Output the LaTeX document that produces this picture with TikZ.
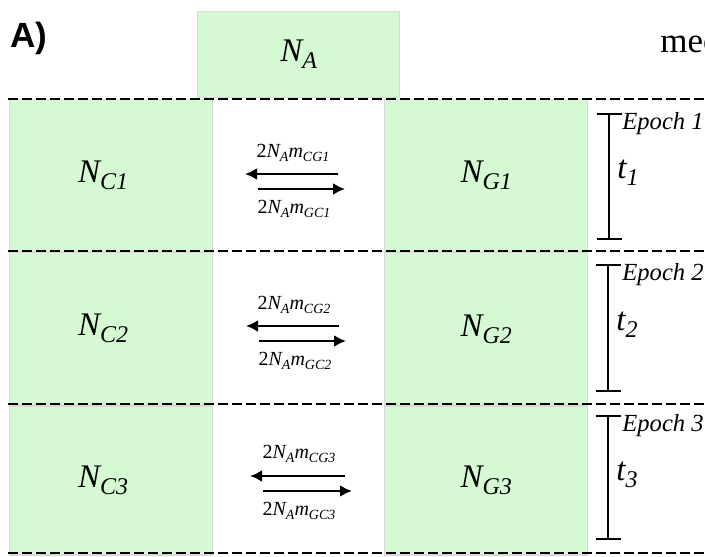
\documentclass[tikz,border=0pt]{standalone}
\usepackage{fontspec}
\setmainfont{Liberation Serif}
\newfontfamily\panelfont{Liberation Sans}
\usetikzlibrary{positioning,arrows.meta}

\definecolor{popgreen}{HTML}{D5FAD3}

\newcommand{\popsym}[2]{\textit{#1\raisebox{-3.5pt}{\fontsize{12}{12}\selectfont #2}}}
\newcommand{\migrate}[1]{{\fontsize{10}{11}\selectfont 2\textit{N\raisebox{-2.3pt}{\fontsize{7}{7}\selectfont A}m\raisebox{-2.3pt}{\fontsize{7}{7}\selectfont #1}}}}

\begin{document}
\begin{tikzpicture}[
    x=0.5pt, y=-0.5pt,
    >={Latex[length=6pt,width=6pt]},
    popbox/.style={rectangle, draw=black!15, line width=0.6pt, fill=popgreen, minimum width=101.5pt, minimum height=76pt, inner sep=0pt, font=\fontsize{16.5}{18}\selectfont},
    epochline/.style={line width=1.4pt, dash pattern=on 5pt off 2pt},
    migr/.style={->, line width=1.4pt},
    epochbar/.style={{Bar[width=12.5pt]}-{Bar[width=12.5pt]}, line width=1.1pt},
    epochtag/.style={inner sep=0pt, anchor=base west, font=\fontsize{12.3}{13}\selectfont\itshape},
    timetag/.style={inner sep=0pt, anchor=base west, font=\fontsize{16.5}{18}\selectfont},
    rate/.style={inner sep=0pt, anchor=base}
]
\useasboundingbox (0,0) rectangle (705,556);

% Panel label and cut title
\node[anchor=base west, inner sep=0pt, font=\panelfont\bfseries\fontsize{17.5}{18}\selectfont] (panel) at (10,48) {A)};
\node[anchor=base west, inner sep=0pt, font=\fontsize{17.5}{19}\selectfont] (title) at (660,53) {mec};

% Ancestral population
\node[popbox, minimum width=101pt, minimum height=43pt, anchor=north west] (na) at (197,11) {\popsym{N}{A}};

% Population C
\node[popbox, anchor=north west] (c1) at (9,99) {\popsym{N}{C1}\kern8pt};
\node[popbox, below=0pt of c1] (c2) {\popsym{N}{C2}\kern8pt};
\node[popbox, below=0pt of c2, minimum height=74.5pt] (c3) {\popsym{N}{C3}\kern8pt};

% Population G
\node[popbox, right=85.5pt of c1] (g1) {\popsym{N}{G1}};
\node[popbox, right=85.5pt of c2] (g2) {\popsym{N}{G2}};
\node[popbox, right=85.5pt of c3, minimum height=74.5pt] (g3) {\popsym{N}{G3}};

% Epoch borders
\draw[epochline] (8,99) -- (710,99);
\draw[epochline] (8,251) -- (710,251);
\draw[epochline] (8,404) -- (710,404);
\draw[epochline] (8,553) -- (710,553);

% Migration, epoch 1
\coordinate (cg1s) at (338,174);
\coordinate (cg1e) at (245,174);
\coordinate (gc1s) at (258,189);
\coordinate (gc1e) at (345,189);
\draw[migr] (cg1s) -- (cg1e);
\draw[migr] (gc1s) -- (gc1e);
\node[rate] (mcg1) at (293,157) {\migrate{CG1}};
\node[rate] (mgc1) at (294,213) {\migrate{GC1}};

% Migration, epoch 2
\coordinate (cg2s) at (339,326);
\coordinate (cg2e) at (246,326);
\coordinate (gc2s) at (259,341);
\coordinate (gc2e) at (346,341);
\draw[migr] (cg2s) -- (cg2e);
\draw[migr] (gc2s) -- (gc2e);
\node[rate] (mcg2) at (294,309) {\migrate{CG2}};
\node[rate] (mgc2) at (295,365) {\migrate{GC2}};

% Migration, epoch 3
\coordinate (cg3s) at (345,476);
\coordinate (cg3e) at (250,476);
\coordinate (gc3s) at (263,491);
\coordinate (gc3e) at (352,491);
\draw[migr] (cg3s) -- (cg3e);
\draw[migr] (gc3s) -- (gc3e);
\node[rate] (mcg3) at (299,458) {\migrate{CG3}};
\node[rate] (mgc3) at (299,515) {\migrate{GC3}};

% Epoch durations
\coordinate (t1top) at (609,113);
\coordinate (t1bot) at (609,240);
\draw[epochbar] (t1top) -- (t1bot);
\node[epochtag] (ep1) at (622,129) {Epoch 1};
\node[timetag] (t1) at (617,178) {\popsym{t}{1}};

\coordinate (t2top) at (608,264);
\coordinate (t2bot) at (608,392);
\draw[epochbar] (t2top) -- (t2bot);
\node[epochtag] (ep2) at (622,280) {Epoch 2};
\node[timetag] (t2) at (616,330) {\popsym{t}{2}};

\coordinate (t3top) at (608,415);
\coordinate (t3bot) at (608,540);
\draw[epochbar] (t3top) -- (t3bot);
\node[epochtag] (ep3) at (622,431) {Epoch 3};
\node[timetag] (t3) at (616,480) {\popsym{t}{3}};

\end{tikzpicture}
\end{document}
